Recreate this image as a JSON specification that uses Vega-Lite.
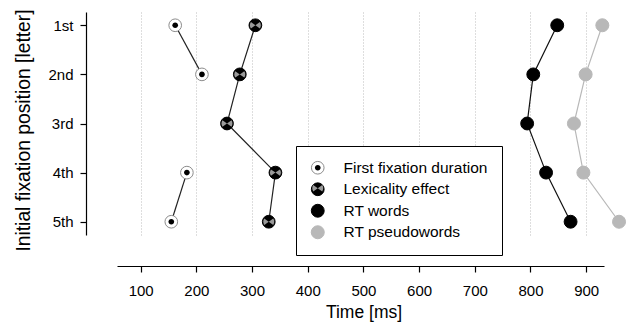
{
  "$schema": "https://vega.github.io/schema/vega-lite/v6.json",
  "width": 487,
  "height": 223,
  "autosize": "none",
  "padding": {"left": 117, "top": 12, "right": 27, "bottom": 89},
  "background": "white",
  "config": {
    "view": {"stroke": null},
    "font": "Liberation Sans",
    "axis": {"labelFont": "Liberation Sans", "titleFont": "Liberation Sans", "labelColor": "black", "titleColor": "black", "titleFontWeight": "normal", "domainColor": "black", "tickColor": "black"},
    "legend": {"labelFont": "Liberation Sans", "labelColor": "black"}
  },
  "data": {
    "values": [
      {"series": "First fixation duration", "pos": "1st", "ms": 162, "seg": "a"},
      {"series": "First fixation duration", "pos": "2nd", "ms": 210, "seg": "a"},
      {"series": "First fixation duration", "pos": "4th", "ms": 183, "seg": "b"},
      {"series": "First fixation duration", "pos": "5th", "ms": 155, "seg": "b"},
      {"series": "Lexicality effect", "pos": "1st", "ms": 306, "seg": "a"},
      {"series": "Lexicality effect", "pos": "2nd", "ms": 278, "seg": "a"},
      {"series": "Lexicality effect", "pos": "3rd", "ms": 255, "seg": "a"},
      {"series": "Lexicality effect", "pos": "4th", "ms": 342, "seg": "a"},
      {"series": "Lexicality effect", "pos": "5th", "ms": 330, "seg": "a"},
      {"series": "RT words", "pos": "1st", "ms": 848, "seg": "a"},
      {"series": "RT words", "pos": "2nd", "ms": 805, "seg": "a"},
      {"series": "RT words", "pos": "3rd", "ms": 794, "seg": "a"},
      {"series": "RT words", "pos": "4th", "ms": 828, "seg": "a"},
      {"series": "RT words", "pos": "5th", "ms": 872, "seg": "a"},
      {"series": "RT pseudowords", "pos": "1st", "ms": 929, "seg": "a"},
      {"series": "RT pseudowords", "pos": "2nd", "ms": 899, "seg": "a"},
      {"series": "RT pseudowords", "pos": "3rd", "ms": 878, "seg": "a"},
      {"series": "RT pseudowords", "pos": "4th", "ms": 895, "seg": "a"},
      {"series": "RT pseudowords", "pos": "5th", "ms": 959, "seg": "a"}
    ]
  },
  "layer": [
    {
      "mark": {"type": "line", "strokeWidth": 1.2},
      "encoding": {
        "x": {"field": "ms", "type": "quantitative", "scale": {"domain": [57.5, 932], "nice": false, "zero": false},
          "axis": {"orient": "bottom", "grid": true, "gridColor": "#bdbdbd", "gridDash": [1, 2], "gridWidth": 1, "domain": false, "ticks": false, "labels": false, "title": null, "values": [100, 200, 300, 400, 500, 600, 700, 800, 900]}},
        "y": {"field": "pos", "type": "ordinal", "scale": {"type": "point", "domain": ["1st", "2nd", "3rd", "4th", "5th"], "padding": 0.27},
          "axis": {"title": "Initial fixation position [letter]", "titleFontSize": 19.3, "titlePadding": 14, "titleY": 118, "labelFontSize": 15, "labelPadding": 7, "tickSize": 6, "offset": 31, "grid": false, "domainWidth": 1.2, "tickWidth": 1.2}},
        "stroke": {"field": "series", "type": "nominal", "scale": {"domain": ["First fixation duration", "Lexicality effect", "RT words", "RT pseudowords"], "range": ["#222222", "#222222", "#111111", "#b8b8b8"]}, "legend": null},
        "detail": {"field": "seg"},
        "order": {"field": "pos"}
      }
    },
    {
      "mark": {"type": "point", "filled": true, "opacity": 1, "strokeWidth": 1, "shape": "circle"},
      "encoding": {
        "x": {"field": "ms", "type": "quantitative",
          "axis": {"orient": "bottom", "grid": false, "offset": 31, "values": [100, 200, 300, 400, 500, 600, 700, 800, 900], "labelFontSize": 15, "labelPadding": 11, "tickSize": 6, "title": "Time [ms]", "titleFontSize": 17.5, "titlePadding": 5, "titleX": 246.5, "domainWidth": 1.2, "tickWidth": 1.2}},
        "y": {"field": "pos", "type": "ordinal"},
        "fill": {"field": "series", "type": "nominal", "scale": {"domain": ["First fixation duration", "Lexicality effect", "RT words", "RT pseudowords"], "range": ["white", "black", "black", "#b8b8b8"]},
          "legend": {"orient": "none", "legendX": 179, "legendY": 134, "title": null, "strokeColor": "black", "fillColor": "white", "padding": 14, "labelFontSize": 15.5, "labelOffset": 18, "rowPadding": 3.5, "symbolOpacity": 1, "symbolStrokeWidth": 1}},
        "stroke": {"field": "series", "type": "nominal", "scale": {"domain": ["First fixation duration", "Lexicality effect", "RT words", "RT pseudowords"], "range": ["#8c8c8c", "black", "black", "#b8b8b8"]}},
        "size": {"field": "series", "type": "nominal", "scale": {"domain": ["First fixation duration", "Lexicality effect", "RT words", "RT pseudowords"], "range": [160, 169, 225, 225]}}
      }
    },
    {
      "transform": [{"filter": {"field": "series", "oneOf": ["First fixation duration", "Lexicality effect"]}}],
      "mark": {"type": "point", "filled": true, "opacity": 1, "strokeWidth": 0},
      "encoding": {
        "x": {"field": "ms", "type": "quantitative", "axis": null},
        "y": {"field": "pos", "type": "ordinal"},
        "fill": {"field": "series", "type": "nominal", "scale": {"domain": ["First fixation duration", "Lexicality effect", "RT words", "RT pseudowords"], "range": ["black", "#9a9a9a", "transparent", "transparent"]},
          "legend": {"orient": "none", "legendX": 179, "legendY": 134, "title": null, "padding": 14, "labelFontSize": 15.5, "labelOffset": 18, "rowPadding": 3.5, "symbolOpacity": 1, "symbolStrokeWidth": 0, "labelOpacity": 0}},
        "shape": {"field": "series", "type": "nominal", "scale": {"domain": ["First fixation duration", "Lexicality effect", "RT words", "RT pseudowords"], "range": ["M-1,-1M1,1M0.45,0A0.45,0.45 0 1,1 -0.45,0A0.45,0.45 0 1,1 0.45,0Z", "M-1,-1M1,1M0,0L-0.7,-0.5A0.86,0.86 0 0,0 -0.7,0.5ZM0,0L0.7,-0.5A0.86,0.86 0 0,1 0.7,0.5Z", "circle", "circle"]}},
        "size": {"field": "series", "type": "nominal", "scale": {"domain": ["First fixation duration", "Lexicality effect", "RT words", "RT pseudowords"], "range": [160, 169, 225, 225]}}
      }
    }
  ],
  "resolve": {
    "scale": {"fill": "independent", "stroke": "independent", "size": "independent", "shape": "independent"},
    "legend": {"fill": "independent", "stroke": "independent", "size": "independent", "shape": "independent"},
    "axis": {"x": "independent"}
  }
}
